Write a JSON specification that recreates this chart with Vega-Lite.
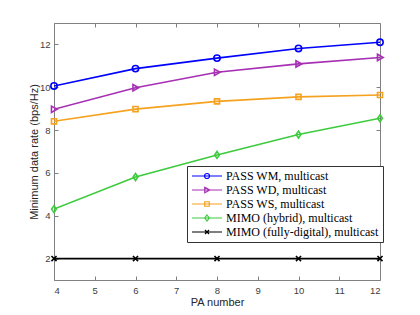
{
  "$schema": "https://vega.github.io/schema/vega-lite/v6.json",
  "width": 326,
  "height": 257,
  "autosize": {"type": "none"},
  "padding": {"left": 54, "top": 23, "right": 40, "bottom": 35},
  "background": "white",
  "config": {
    "view": {"stroke": null},
    "axis": {
      "grid": false,
      "domainColor": "#808080",
      "domainWidth": 1,
      "tickColor": "#808080",
      "tickSize": -4,
      "labelFont": "Liberation Sans",
      "labelFontSize": 9.5,
      "labelColor": "#404040",
      "titleFont": "Liberation Sans",
      "titleFontSize": 11,
      "titleFontWeight": "normal",
      "titleColor": "#262626"
    }
  },
  "data": {
    "values": [
      {"series": "PASS WM, multicast", "x": 4, "y": 10.06},
      {"series": "PASS WM, multicast", "x": 6, "y": 10.87},
      {"series": "PASS WM, multicast", "x": 8, "y": 11.36},
      {"series": "PASS WM, multicast", "x": 10, "y": 11.81},
      {"series": "PASS WM, multicast", "x": 12, "y": 12.1},
      {"series": "PASS WD, multicast", "x": 4, "y": 8.97},
      {"series": "PASS WD, multicast", "x": 6, "y": 9.98},
      {"series": "PASS WD, multicast", "x": 8, "y": 10.7},
      {"series": "PASS WD, multicast", "x": 10, "y": 11.09},
      {"series": "PASS WD, multicast", "x": 12, "y": 11.39},
      {"series": "PASS WS, multicast", "x": 4, "y": 8.41},
      {"series": "PASS WS, multicast", "x": 6, "y": 8.98},
      {"series": "PASS WS, multicast", "x": 8, "y": 9.34},
      {"series": "PASS WS, multicast", "x": 10, "y": 9.55},
      {"series": "PASS WS, multicast", "x": 12, "y": 9.64},
      {"series": "MIMO (hybrid), multicast", "x": 4, "y": 4.31},
      {"series": "MIMO (hybrid), multicast", "x": 6, "y": 5.81},
      {"series": "MIMO (hybrid), multicast", "x": 8, "y": 6.84},
      {"series": "MIMO (hybrid), multicast", "x": 10, "y": 7.79},
      {"series": "MIMO (hybrid), multicast", "x": 12, "y": 8.55},
      {"series": "MIMO (fully-digital), multicast", "x": 4, "y": 2},
      {"series": "MIMO (fully-digital), multicast", "x": 6, "y": 2},
      {"series": "MIMO (fully-digital), multicast", "x": 8, "y": 2},
      {"series": "MIMO (fully-digital), multicast", "x": 10, "y": 2},
      {"series": "MIMO (fully-digital), multicast", "x": 12, "y": 2}
    ]
  },
  "layer": [
    {
      "mark": {"type": "line", "strokeWidth": 1.6, "clip": true},
      "encoding": {
        "x": {"field": "x", "type": "quantitative", "scale": {"domain": [4, 12], "nice": false},
              "axis": {"title": "PA number", "values": [4,5,6,7,8,9,10,11,12], "labelPadding": 9, "titlePadding": 2}},
        "y": {"field": "y", "type": "quantitative", "scale": {"domain": [1, 13], "nice": false, "zero": false},
              "axis": {"title": "Minimum data rate (bps/Hz)", "values": [2,4,6,8,10,12], "labelPadding": 8, "titlePadding": 0}},
        "color": {"field": "series", "type": "nominal",
                  "scale": {"domain": ["PASS WM, multicast", "PASS WD, multicast", "PASS WS, multicast", "MIMO (hybrid), multicast", "MIMO (fully-digital), multicast"],
                            "range": ["#0000FF", "#A62FB4", "#F5A21E", "#3CCB3C", "#000000"]},
                  "legend": null}
      }
    },
    {
      "mark": {"type": "point", "filled": false, "strokeWidth": 1.6, "size": 40, "opacity": 1},
      "encoding": {
        "x": {"field": "x", "type": "quantitative", "axis": null},
        "y": {"field": "y", "type": "quantitative", "axis": null},
        "color": {"field": "series", "type": "nominal", "legend": null},
        "shape": {"field": "series", "type": "nominal",
                  "scale": {"domain": ["PASS WM, multicast", "PASS WD, multicast", "PASS WS, multicast", "MIMO (hybrid), multicast", "MIMO (fully-digital), multicast"],
                            "range": ["circle", "M-0.8,-1L1,0L-0.8,1Z", "M-0.8,-0.8H0.8V0.8H-0.8Z", "M0,-1.1L0.75,0L0,1.1L-0.75,0Z", "M-0.8,-0.8L0.8,0.8M-0.8,0.8L0.8,-0.8"]},
                  "legend": null}
      }
    },
    {
      "mark": {"type": "point", "filled": false, "strokeWidth": 1.2, "opacity": 0},
      "encoding": {
        "x": {"field": "x", "type": "quantitative", "axis": null},
        "y": {"field": "y", "type": "quantitative", "axis": null},
        "stroke": {"field": "series", "type": "nominal",
                  "scale": {"domain": ["PASS WM, multicast", "PASS WD, multicast", "PASS WS, multicast", "MIMO (hybrid), multicast", "MIMO (fully-digital), multicast"],
                            "range": ["#0000FF", "#A62FB4", "#F5A21E", "#3CCB3C", "#000000"]},
                  "legend": {"orient": "none", "legendX": 133, "legendY": 143, "title": null,
                             "strokeColor": "#333333", "fillColor": "white", "padding": 4,
                             "labelFont": "Liberation Serif", "labelFontSize": 12, "labelColor": "#000000",
                             "symbolSize": 100, "symbolStrokeWidth": 1.2, "symbolOpacity": 1,
                             "labelOffset": 23, "rowPadding": 2, "symbolFillColor": "white"}},
        "shape": {"field": "series", "type": "nominal",
                  "scale": {"domain": ["PASS WM, multicast", "PASS WD, multicast", "PASS WS, multicast", "MIMO (hybrid), multicast", "MIMO (fully-digital), multicast"],
                            "range": ["M-1,0H5M2.5,0A0.5,0.5 0 1,1 1.5,0A0.5,0.5 0 1,1 2.5,0",
                                      "M-1,0H5M1.55,-0.55L2.55,0L1.55,0.55Z",
                                      "M-1,0H5M1.55,-0.45H2.45V0.45H1.55Z",
                                      "M-1,0H5M2,-0.6L2.45,0L2,0.6L1.55,0Z",
                                      "M-1,0H5M1.6,-0.4L2.4,0.4M1.6,0.4L2.4,-0.4"]},
                  "legend": {"orient": "none", "legendX": 133, "legendY": 143, "title": null,
                             "strokeColor": "#333333", "fillColor": "white", "padding": 4,
                             "labelFont": "Liberation Serif", "labelFontSize": 12, "labelColor": "#000000",
                             "symbolSize": 100, "symbolStrokeWidth": 1.2, "symbolOpacity": 1,
                             "labelOffset": 23, "rowPadding": 2, "symbolFillColor": "white"}}
      }
    },
    {
      "mark": {"type": "rule", "opacity": 0},
      "encoding": {
        "x": {"field": "x", "type": "quantitative", "axis": {"orient": "top", "labels": false, "title": null, "values": [4,5,6,7,8,9,10,11,12]}},
        "y": {"field": "y", "type": "quantitative", "axis": {"orient": "right", "labels": false, "title": null, "values": [2,4,6,8,10,12]}}
      }
    }
  ],
  "resolve": {"scale": {"shape": "independent", "stroke": "independent"}, "axis": {"x": "independent", "y": "independent"}}
}
